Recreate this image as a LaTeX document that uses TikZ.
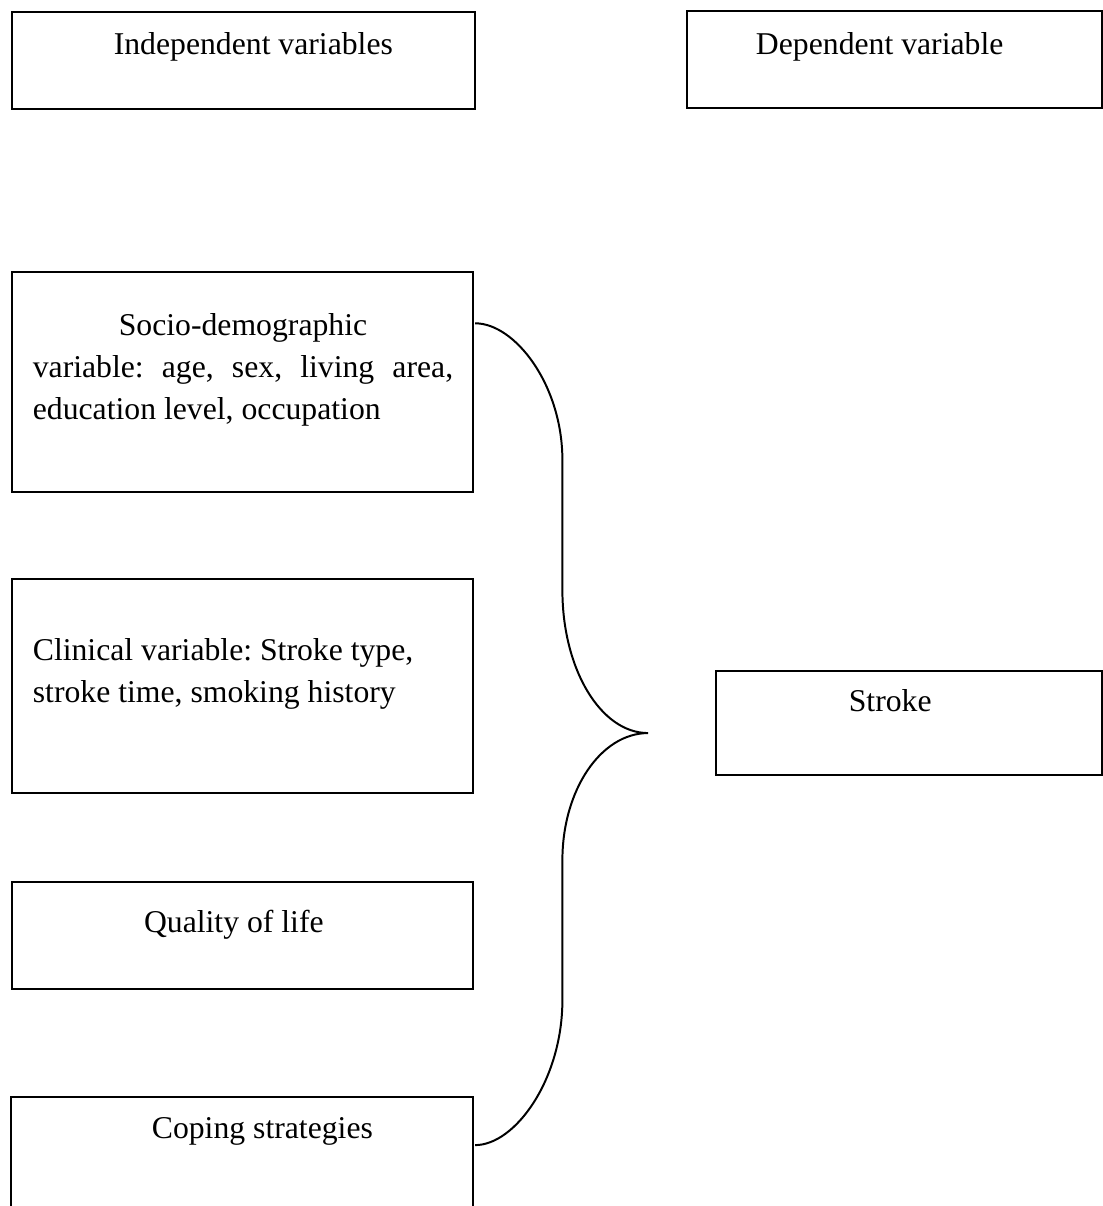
\documentclass[tikz,border=0pt]{standalone}
\usepackage{fontspec}
\setmainfont{Liberation Serif}

\tikzset{
  varbox/.style={rectangle, draw, line width=0.75pt, inner sep=0pt, outer sep=0pt},
  vartext/.style={inner sep=0pt, anchor=base, font=\fontsize{12pt}{15.9pt}\selectfont\frenchspacing},
  linkbrace/.style={line width=0.75pt}
}

\begin{document}
\begin{tikzpicture}

\useasboundingbox (0,0) rectangle (14.67,-16.04);
\clip (0,0) rectangle (14.67,-16.04);

% header boxes
\draw ( 3.24,-0.80)     node (indep)    [varbox, minimum width=6.16cm, minimum height=1.29cm] {} ;
\draw ( 3.37,-0.73)     node (indeptxt) [vartext] {Independent variables} ;

\draw (11.90,-0.79)     node (dep)      [varbox, minimum width=5.52cm, minimum height=1.28cm] {} ;
\draw (11.70,-0.73)     node (deptxt)   [vartext] {Dependent variable} ;

% independent variables
\draw ( 3.23,-5.08)     node (socio)    [varbox, minimum width=6.13cm, minimum height=2.93cm] {} ;
\draw ( 0.43,-4.46)     node (sociotxt) [vartext, anchor=base west, text width=5.59cm, align=justify]
      {{\centering Socio-demographic\par}variable: age, sex, living area,\linebreak education level, occupation} ;

\draw ( 3.23,-9.12)     node (clin)     [varbox, minimum width=6.13cm, minimum height=2.85cm] {} ;
\draw ( 0.43,-8.78)     node (clintxt)  [vartext, anchor=base west, text width=5.59cm, align=flush left]
      {Clinical variable: Stroke type,\\ stroke time, smoking history} ;

\draw ( 3.23,-12.44)    node (qual)     [varbox, minimum width=6.13cm, minimum height=1.42cm] {} ;
\draw ( 3.11,-12.40)    node (qualtxt)  [vartext] {Quality of life} ;

\draw ( 3.22,-15.38)    node (coping)   [varbox, minimum width=6.15cm, minimum height=1.57cm] {} ;
\draw ( 3.49,-15.14)    node (copingtxt) [vartext] {Coping strategies} ;

% dependent variable
\draw (12.09,-9.62)     node (stroke)   [varbox, minimum width=5.13cm, minimum height=1.38cm] {} ;
\draw (11.84,-9.46)     node (stroketxt) [vartext] {Stroke} ;

% brace
\coordinate (bracetop) at (6.32,-4.30);
\coordinate (bracetip) at (8.62,-9.75);
\coordinate (bracebot) at (6.32,-15.23);

\draw[linkbrace] (bracetop) .. controls (6.85,-4.30) and (7.48,-5.12) .. (7.48,-6.12)
      -- (7.48,-7.85) .. controls (7.48,-8.90) and (7.99,-9.75) .. (bracetip)
      .. controls (7.99,-9.75) and (7.48,-10.51) .. (7.48,-11.44)
      -- (7.48,-13.30) .. controls (7.48,-14.36) and (6.85,-15.23) .. (bracebot) ;

\end{tikzpicture}
\end{document}
